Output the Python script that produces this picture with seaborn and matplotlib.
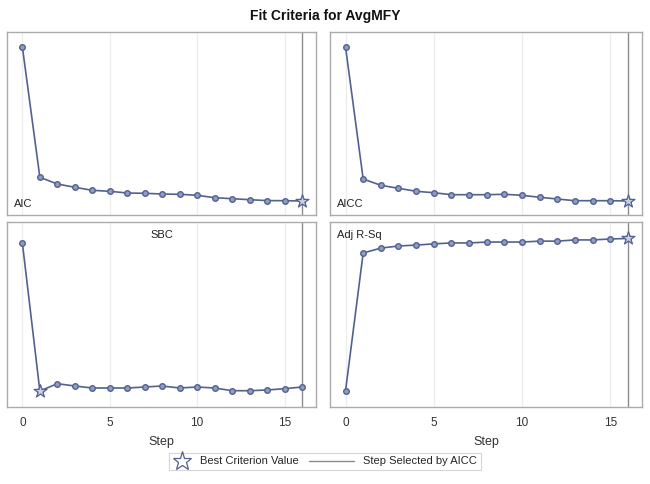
import numpy as np
import matplotlib
matplotlib.use("Agg")
import matplotlib.pyplot as plt
from matplotlib.lines import Line2D
from matplotlib.legend_handler import HandlerBase
import seaborn as sb

sb.set_theme(style="white")
plt.rcParams['font.family'] = ['Liberation Sans', 'DejaVu Sans']

# values (no y scale shown, units are arbitrary)
steps = np.arange(17)
aic = [168.0, 37.7, 31.0, 27.7, 24.7, 23.7, 22.0, 21.7, 21.0, 20.7,
       19.7, 17.3, 16.3, 15.3, 14.4, 14.3, 14.0]
aicc = [168.0, 36.0, 29.7, 26.7, 23.7, 22.3, 20.3, 20.3, 20.3, 20.7,
        19.7, 17.7, 16.0, 14.3, 14.3, 14.3, 14.0]
sbc = [164.0, 16.0, 23.3, 21.0, 19.0, 19.0, 19.0, 20.0, 21.0, 19.0,
       20.0, 19.0, 16.3, 16.3, 17.0, 18.3, 20.0]
adj_rsq = [0.000, 0.454, 0.470, 0.477, 0.480, 0.484, 0.487, 0.487, 0.490,
           0.490, 0.490, 0.493, 0.493, 0.497, 0.497, 0.500, 0.502]

line_col = "#52618f"
fill_col = "#909dc2"
ref_col = "#8c8c8c"
frame_col = "#ababab"
selected = int(np.argmin(aicc))

fig = plt.figure(figsize=(6.5, 4.84), dpi=100)
W, H = 650., 484.

def box(x0, y0, x1, y1):
    return [x0 / W, 1 - y1 / H, (x1 - x0) / W, (y1 - y0) / H]

panels = [
    ("AIC", aic, "min", box(7, 32, 316, 215), (0, 183), "bl", False),
    ("AICC", aicc, "min", box(330, 32, 642, 215), (0, 183), "bl", False),
    ("SBC", sbc, "min", box(7, 222, 316, 407), (0, 185), "tc", True),
    ("Adj R-Sq", adj_rsq, "max", box(330, 222, 642, 407), (-0.053, 0.556), "tl", True),
]

for name, vals, best, pos, ylim, lab, bottom in panels:
    ax = fig.add_axes(pos)
    for gx in [0, 5, 10, 15]:
        ax.axvline(gx, color="#ececec", lw=0.9, zorder=0)
    ax.axvline(selected, color=ref_col, lw=1.0, zorder=1)
    sb.lineplot(x=steps, y=vals, ax=ax, color=line_col, lw=1.2,
                marker="o", markersize=4.0, markerfacecolor=fill_col,
                markeredgecolor=line_col, markeredgewidth=1.0, zorder=3)
    b = int(np.argmin(vals)) if best == "min" else int(np.argmax(vals))
    ax.scatter([steps[b]], [vals[b]], marker="*", s=95,
               facecolor="#c8d0e4", edgecolor=line_col, linewidths=0.9, zorder=4)
    ax.set_xlim(-0.88, 16.8)
    ax.set_ylim(*ylim)
    ax.set_yticks([])
    ax.set_ylabel("")
    for s in ax.spines.values():
        s.set_color(frame_col)
        s.set_linewidth(1.0)
    if bottom:
        ax.set_xticks([0, 5, 10, 15])
        ax.tick_params(axis="x", labelsize=8.5, colors="#333333", length=3,
                       width=0.8, color=frame_col, pad=4)
        ax.set_xlabel("Step", fontsize=9, color="#333333", labelpad=5)
    else:
        ax.set_xticks([])
        ax.set_xlabel("")
    if lab == "bl":
        ax.text(0.022, 0.035, name, transform=ax.transAxes, fontsize=8,
                color="#222222", ha="left", va="bottom")
    elif lab == "tl":
        ax.text(0.022, 0.955, name, transform=ax.transAxes, fontsize=8,
                color="#222222", ha="left", va="top")
    else:
        ax.text(0.5, 0.955, name, transform=ax.transAxes, fontsize=8,
                color="#222222", ha="center", va="top")

fig.text(0.5, 1 - 16 / H, "Fit Criteria for AvgMFY", ha="center", va="center",
         fontsize=10, fontweight="bold", color="#111111")


class LongLine(HandlerBase):
    # line handle that reaches further left than the short star handle
    def create_artists(self, legend, orig, xdescent, ydescent, width, height,
                       fontsize, trans):
        y = height / 2 - ydescent
        ln = Line2D([width - 32.5, width], [y, y], color=orig.get_color(),
                    lw=orig.get_linewidth(), transform=trans)
        return [ln]


star_h = Line2D([], [], ls="none", marker="*", markersize=14,
                markerfacecolor="white", markeredgecolor=line_col,
                markeredgewidth=0.9)
ref_h = Line2D([], [], color=ref_col, lw=1.0)
leg = fig.legend([star_h, ref_h], ["Best Criterion Value", "Step Selected by AICC"],
                 loc="center", bbox_to_anchor=(325 / W, 1 - 461.5 / H), ncol=2,
                 fontsize=8, frameon=True, fancybox=False, handlelength=1.6,
                 columnspacing=3.4, handletextpad=0.8, borderpad=0.35,
                 handler_map={ref_h: LongLine()})
leg.get_frame().set_edgecolor("#cccccc")
leg.get_frame().set_linewidth(0.8)

fig.savefig("out.png", dpi=100)
